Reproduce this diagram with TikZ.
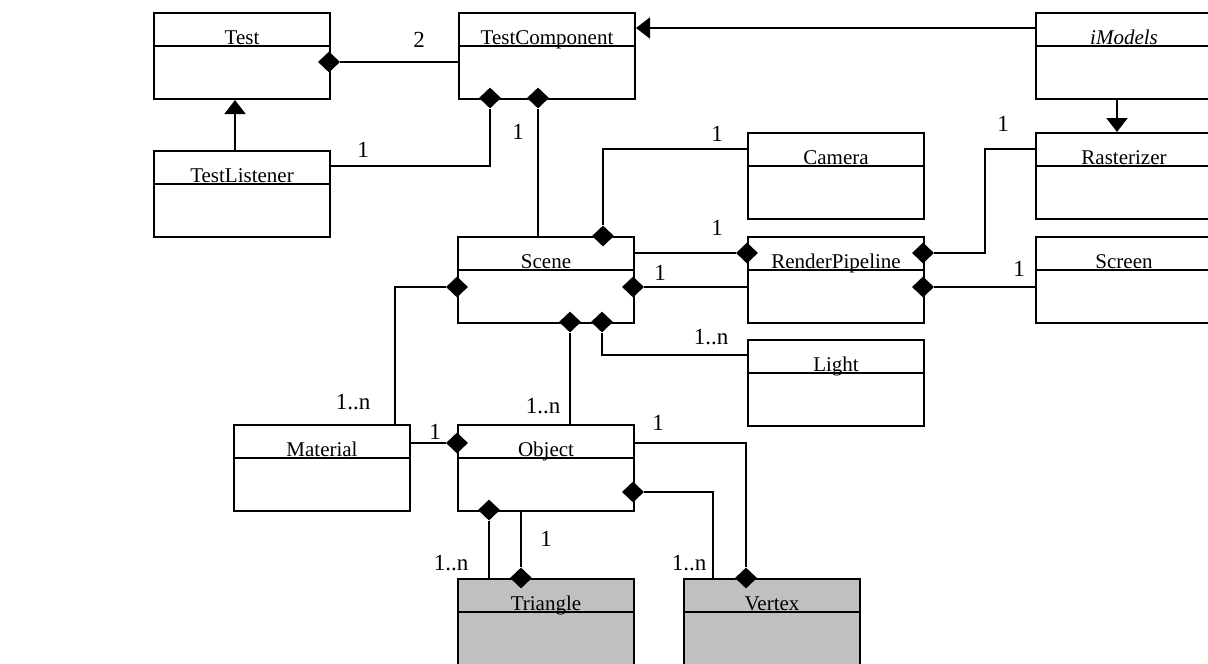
\documentclass[tikz,border=0pt]{standalone}
\usepackage{fontspec}
\setmainfont{Liberation Serif}
\usetikzlibrary{shapes.geometric,arrows.meta,calc}
\definecolor{boxgray}{HTML}{C0C0C0}
\tikzset{
 box/.style={draw, line width=2pt, minimum width=176pt, minimum height=86pt, inner sep=0pt, anchor=north west, fill=white},
 gbox/.style={box, fill=boxgray},
 hdr/.style={line width=2pt},
 cname/.style={font=\fontsize{21}{25}\selectfont, anchor=base, inner sep=0pt},
 mult/.style={font=\fontsize{23}{27}\selectfont, inner sep=0pt},
 dmd/.style={diamond, fill=black, inner sep=0pt, minimum width=22pt, minimum height=21pt},
 conn/.style={line width=2pt},
 gen/.style={conn, -{Triangle[width=21pt,length=14pt]}},
}
\newcommand\umlbox[5]{%
 \node[#1] (#2) at (#3,#4) {};
 \draw[hdr] ([yshift=-34pt]#2.north west) -- ([yshift=-34pt]#2.north east);
 \node[cname] (#2-t) at ([yshift=-32.5pt]#2.north) {#5};
}
\begin{document}
\begin{tikzpicture}[x=1pt,y=-1pt]
\useasboundingbox (0,0) rectangle (1208,664);
\clip (0,0) rectangle (1208,664);
% classes
\umlbox{box}{test}{153}{12}{Test}
\umlbox{box}{tc}{458}{12}{TestComponent}
\umlbox{box}{imodels}{1035}{12}{\itshape iModels}
\umlbox{box}{tl}{153}{150}{TestListener}
\umlbox{box}{camera}{747}{132}{Camera}
\umlbox{box}{raster}{1035}{132}{Rasterizer}
\umlbox{box}{scene}{457}{236}{Scene}
\umlbox{box}{rp}{747}{236}{RenderPipeline}
\umlbox{box}{screen}{1035}{236}{Screen}
\umlbox{box}{light}{747}{339}{Light}
\umlbox{box}{material}{233}{424}{Material}
\umlbox{box}{object}{457}{424}{Object}
\umlbox{gbox}{triangle}{457}{578}{Triangle}
\umlbox{gbox}{vertex}{683}{578}{Vertex}
% diamonds
\node[dmd] (dTest) at (329,62) {};
\node[dmd] (dTC1) at (490,98) {};
\node[dmd] (dTC2) at (538,98) {};
\node[dmd] (dScTop) at (603,236) {};
\node[dmd] (dRPl) at (747,253) {};
\node[dmd] (dScR) at (633,287) {};
\node[dmd] (dRPr1) at (923,253) {};
\node[dmd] (dRPr2) at (923,287) {};
\node[dmd] (dScL) at (457,287) {};
\node[dmd] (dScB1) at (570,322) {};
\node[dmd] (dScB2) at (602,322) {};
\node[dmd] (dObL) at (457,443) {};
\node[dmd] (dObR) at (633,492) {};
\node[dmd] (dObB) at (489,510) {};
\node[dmd] (dTri) at (521,578) {};
\node[dmd] (dVx) at (746,578) {};
\coordinate (kRas) at (985,253);
% connectors
\draw[conn] (dTest) -- (dTest -| tc.west);
\draw[gen] ([xshift=-7pt]tl.north) -- ([xshift=-7pt]test.south);
\draw[conn] ([yshift=-16pt]tl.north east) -| (dTC1);
\draw[conn] (dTC2) -- (dTC2 |- scene.north);
\draw[gen] ([yshift=-16pt]imodels.north west) -- ([yshift=-16pt]tc.north east);
\draw[gen] ([xshift=-7pt]imodels.south) -- ([xshift=-7pt]raster.north);
\draw[conn] (dScTop) |- ([yshift=-17pt]camera.north west);
\draw[conn] (dRPl) -- (dRPl -| scene.east);
\draw[conn] (dScR) -- (dScR -| rp.west);
\draw[conn] (dRPr1) -- (kRas) |- ([yshift=-17pt]raster.north west);
\draw[conn] (dRPr2) -- (dRPr2 -| screen.west);
\draw[conn] (dScB2) |- ([yshift=-16pt]light.north west);
\draw[conn] (dScB1) -- (dScB1 |- object.north);
\draw[conn] (dScL) -| ([xshift=-16pt]material.north east);
\draw[conn] ([yshift=-19pt]material.north east) -- (dObL);
\draw[conn] ([yshift=-19pt]object.north east) -| (dVx);
\draw[conn] (dObR) -| ([xshift=30pt]vertex.north west);
\draw[conn] (dObB) -- (dObB |- triangle.north);
\draw[conn] (dTri) -- (dTri |- object.south);
% multiplicities
\node[mult] (m1) at (419,40) {2};
\node[mult] (m2) at (363,150) {1};
\node[mult] (m3) at (518,132) {1};
\node[mult] (m4) at (717,134) {1};
\node[mult] (m5) at (717,228) {1};
\node[mult] (m6) at (660,273) {1};
\node[mult] (m7) at (1003,124) {1};
\node[mult] (m8) at (1019,269) {1};
\node[mult] (m9) at (711,337) {1..n};
\node[mult] (m10) at (543,406) {1..n};
\node[mult] (m11) at (353,402) {1..n};
\node[mult] (m12) at (435,432) {1};
\node[mult] (m13) at (658,423) {1};
\node[mult] (m14) at (546,539) {1};
\node[mult] (m15) at (451,563) {1..n};
\node[mult] (m16) at (689,563) {1..n};
\end{tikzpicture}
\end{document}
